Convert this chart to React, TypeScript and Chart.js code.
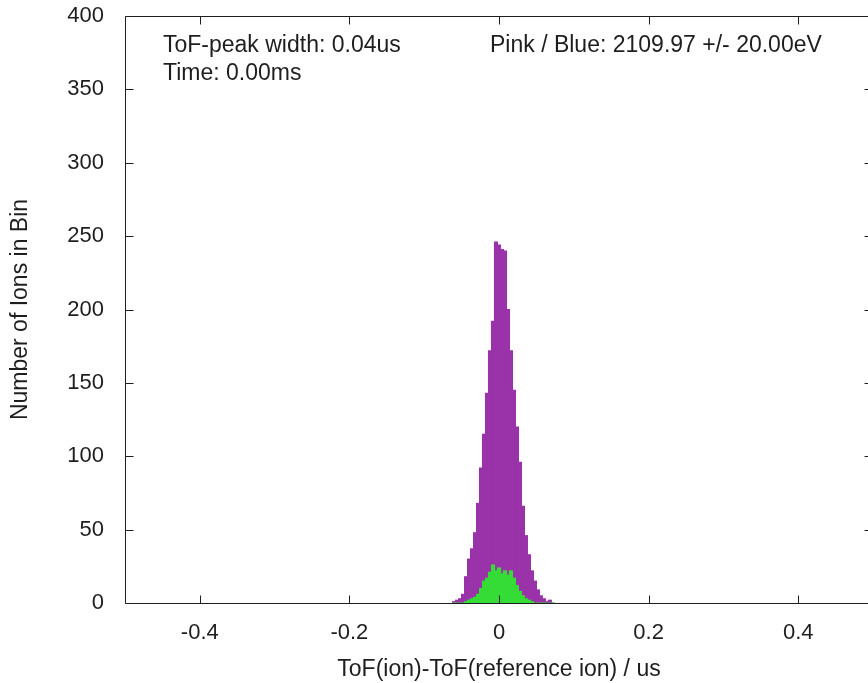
import React, { useEffect, useRef } from "react";
import { Chart, registerables } from "chart.js";

Chart.register(...registerables);

// Histogram bin centres (us)
const binCenters = [
  -0.06, -0.056, -0.052, -0.048, -0.044, -0.04, -0.036, -0.032, -0.028, -0.024,
  -0.02, -0.016, -0.012, -0.008, -0.004, 0.0, 0.004, 0.008, 0.012, 0.016,
  0.02, 0.024, 0.028, 0.032, 0.036, 0.04, 0.044, 0.048, 0.052, 0.056,
  0.06, 0.064, 0.068, 0.072,
];
// "Pink" ions (drawn purple)
const pinkCounts = [
  1, 2, 3, 6, 18, 30, 37, 48, 68, 92,
  115, 143, 172, 192, 246, 244, 241, 240, 200, 172,
  145, 120, 96, 66, 46, 33, 22, 15, 9, 5,
  3, 1, 2, 0,
];
// "Blue" ions (drawn green)
const blueCounts = [
  0, 0, 0, 0, 1, 2, 3, 4, 6, 10,
  15, 17, 21, 26, 22, 24, 20, 22, 19, 22,
  17, 12, 8, 5, 3, 2, 1, 0, 0, 0,
  0, 0, 0, 0,
];

const xTicks = [-0.4, -0.2, 0, 0.2, 0.4];
const yTicks = [0, 50, 100, 150, 200, 250, 300, 350, 400];
const xTitle = "ToF(ion)-ToF(reference ion) / us";
const yTitle = "Number of Ions in Bin";
const infoLeft = ["ToF-peak width: 0.04us", "Time: 0.00ms"];
const infoRight = "Pink / Blue: 2109.97 +/- 20.00eV";

const FONT = '"Liberation Sans", Arial, sans-serif';
const INK = "#1e1e1e";

const framePlugin = {
  id: "gnuplotFrame",
  afterDatasetsDraw(chart: any) {
    const { ctx, chartArea: a, scales } = chart;
    const x = scales.x;
    const y = scales.y;
    const L = Math.round(a.left) + 0.5;
    const R = Math.round(a.right) - 0.5;
    const T = Math.round(a.top) + 0.5;
    const B = Math.round(a.bottom) + 0.5;
    const tl = 8;
    ctx.save();
    ctx.strokeStyle = INK;
    ctx.lineWidth = 1;
    ctx.beginPath();
    ctx.moveTo(L, T);
    ctx.lineTo(R, T);
    ctx.lineTo(R, B);
    ctx.lineTo(L, B);
    ctx.closePath();
    x.ticks.forEach((tk: any) => {
      const px = Math.round(x.getPixelForValue(tk.value)) + 0.5;
      ctx.moveTo(px, B);
      ctx.lineTo(px, B - tl);
      ctx.moveTo(px, T);
      ctx.lineTo(px, T + tl);
    });
    y.ticks.forEach((tk: any) => {
      const py = Math.round(y.getPixelForValue(tk.value)) + 0.5;
      ctx.moveTo(L, py);
      ctx.lineTo(L + tl, py);
      ctx.moveTo(R, py);
      ctx.lineTo(R - tl, py);
    });
    ctx.stroke();

    ctx.fillStyle = INK;
    ctx.font = `23px ${FONT}`;
    ctx.textAlign = "left";
    ctx.textBaseline = "alphabetic";
    ctx.fillText(infoLeft[0], a.left + 38, a.top + 36);
    ctx.fillText(infoLeft[1], a.left + 38, a.top + 64);
    ctx.fillText(infoRight, a.left + 365, a.top + 36);
    ctx.restore();
  },
};

export default function App() {
  const ref = useRef<HTMLCanvasElement | null>(null);

  useEffect(() => {
    if (!ref.current) return;
    const barCommon = {
      borderWidth: 0,
      grouped: false,
      barPercentage: 1.12,
      categoryPercentage: 1,
      inflateAmount: 0.4,
    };
    const chart = new Chart(ref.current, {
      type: "bar",
      data: {
        datasets: [
          {
            label: "Blue",
            data: binCenters.map((v, i) => ({ x: v, y: blueCounts[i] })),
            backgroundColor: "#35dc35",
            order: 0,
            ...barCommon,
          },
          {
            label: "Pink",
            data: binCenters.map((v, i) => ({ x: v, y: pinkCounts[i] })),
            backgroundColor: "#9a32aa",
            order: 1,
            ...barCommon,
          },
        ],
      } as any,
      options: {
        responsive: false,
        animation: false,
        layout: { padding: { top: 16, right: 2, left: 0, bottom: 0 } },
        plugins: {
          legend: { display: false },
          tooltip: { enabled: false },
        },
        scales: {
          x: {
            type: "linear",
            min: -0.5,
            max: 0.5,
            offset: false,
            afterBuildTicks: (s: any) => {
              s.ticks = xTicks.map((v) => ({ value: v }));
            },
            afterFit: (s: any) => {
              s.height = 80;
              s.paddingLeft = 0;
              s.paddingRight = 0;
            },
            grid: { display: false, drawTicks: false, offset: false },
            border: { display: false },
            ticks: {
              padding: 17,
              color: INK,
              font: { family: FONT, size: 22 },
              maxRotation: 0,
              callback: (v: any) => String(Math.round(Number(v) * 10) / 10),
            },
            title: {
              display: true,
              text: xTitle,
              color: INK,
              font: { family: FONT, size: 23 },
              padding: { top: 0, bottom: 0 },
            },
          },
          y: {
            type: "linear",
            min: 0,
            max: 400,
            afterBuildTicks: (s: any) => {
              s.ticks = yTicks.map((v) => ({ value: v }));
            },
            afterFit: (s: any) => {
              s.width = 125;
              s.paddingTop = 0;
              s.paddingBottom = 0;
            },
            grid: { display: false, drawTicks: false },
            border: { display: false },
            ticks: {
              padding: 21,
              color: INK,
              font: { family: FONT, size: 22 },
              callback: (v: any) => String(v),
            },
            title: {
              display: true,
              text: yTitle,
              color: INK,
              font: { family: FONT, size: 23 },
              padding: { top: 7, bottom: 0 },
            },
          },
        },
      },
      plugins: [framePlugin],
    } as any);
    return () => chart.destroy();
  }, []);

  return (
    <div
      style={{
        position: "fixed",
        left: 0,
        top: 0,
        width: 868,
        height: 683,
        overflow: "hidden",
        background: "#ffffff",
      }}
    >
      <canvas ref={ref} width={875} height={683} style={{ display: "block" }} />
    </div>
  );
}
